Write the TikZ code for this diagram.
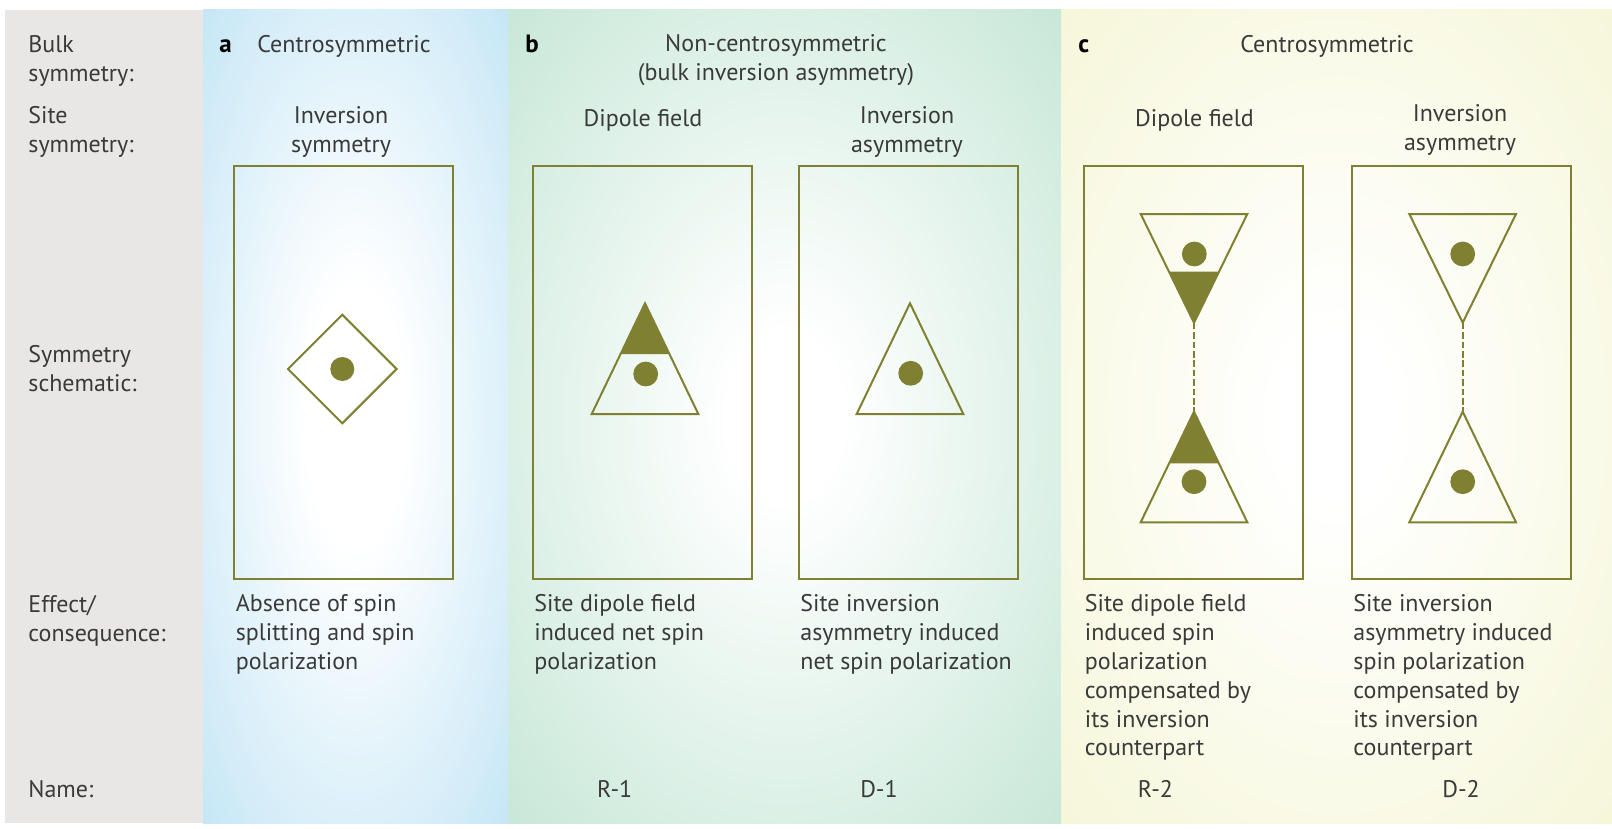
\documentclass[tikz,border=0pt]{standalone}
\usepackage{fontspec}
\setmainfont{PT Sans}
\usetikzlibrary{calc}
\definecolor{olv}{RGB}{128,128,50}
\definecolor{txt}{RGB}{58,58,58}
\definecolor{greyp}{RGB}{232,231,230}
\definecolor{bluep}{RGB}{176,221,242}
\definecolor{greenp}{RGB}{184,225,205}
\definecolor{yellp}{RGB}{243,244,206}
\pgfdeclareradialshading{shA}{\pgfpoint{0bp}{0bp}}{color(0bp)=(white); color(8bp)=(white); color(46bp)=(bluep); color(90bp)=(bluep)}
\pgfdeclareradialshading{shB}{\pgfpoint{0bp}{0bp}}{color(0bp)=(white); color(5bp)=(white); color(44bp)=(greenp); color(90bp)=(greenp)}
\pgfdeclareradialshading{shC}{\pgfpoint{0bp}{0bp}}{color(0bp)=(white); color(5bp)=(white); color(44bp)=(yellp); color(90bp)=(yellp)}
\begin{document}
\begin{tikzpicture}[x=0.5pt,y=-0.5pt,
  lbl/.style={font=\fontsize{12}{14.4}\selectfont, text=txt, inner sep=0pt, align=left, anchor=north west, execute at begin node=\strut},
  hdr/.style={font=\fontsize{12}{14.4}\selectfont, text=txt, inner sep=0pt, align=center, anchor=north, execute at begin node=\strut},
  letter/.style={font=\fontsize{12.5}{14.4}\selectfont\bfseries, text=black, inner sep=0pt, anchor=north west, execute at begin node=\strut},
  sitebox/.style={draw=olv, line width=1pt, minimum width=109.5pt, minimum height=206.7pt, inner sep=0pt},
  shp/.style={draw=olv, line width=1pt, line join=miter},
  solid part/.style={fill=olv},
  dot/.style={fill=olv},
  link/.style={draw=olv, line width=0.9pt, dash pattern=on 3.3pt off 1.4pt}
]
\useasboundingbox (0,0) rectangle (1612,829);
% panels
\fill[greyp] (5,10) rectangle (203,823);
\path[shading=shA] (203,10) rectangle (508,823);
\path[shading=shB] (508,10) rectangle (1061,823);
\path[shading=shC] (1061,10) rectangle (1612,823);

% row labels
\node[lbl] (lbulk) at (28,35.5) {Bulk\\symmetry:};
\node[lbl] (lsite) at (28,106) {Site\\symmetry:};
\node[lbl] (lsch) at (28,345) {Symmetry\\schematic:};
\node[lbl] (leff) at (28,595) {Effect/\\consequence:};
\node[lbl] (lname) at (28,777) {Name:};

% panel letters and bulk symmetry
\node[letter] (la) at (219,32) {a};
\node[letter] (lb) at (525,32) {b};
\node[letter] (lc) at (1078,32) {c};
\node[hdr] (bulkA) at (344,32) {Centrosymmetric};
\node[hdr] (bulkB) at (776,34.5) {Non-centrosymmetric\\(bulk inversion asymmetry)};
\node[hdr] (bulkC) at (1327,32) {Centrosymmetric};

% site symmetry
\node[hdr] (siteA) at (341,106.4) {Inversion\\symmetry};
\node[hdr] (siteB1) at (643,106) {Dipole field};
\node[hdr] (siteB2) at (907,106.4) {Inversion\\asymmetry};
\node[hdr] (siteC1) at (1194.5,106) {Dipole field};
\node[hdr] (siteC2) at (1460,104.5) {Inversion\\asymmetry};

% boxes
\node[sitebox] (boxA) at (343.5,372.3) {};
\node[sitebox] (boxB1) at (642.5,372.3) {};
\node[sitebox] (boxB2) at (908.5,372.3) {};
\node[sitebox] (boxC1) at (1193.5,372.3) {};
\node[sitebox] (boxC2) at (1461.5,372.3) {};

% panel a: diamond
\coordinate (dT) at (342.3,314.7);
\coordinate (dR) at (396.6,369);
\coordinate (dB) at (342.3,423.3);
\coordinate (dL) at (288,369);
\draw[shp] (dT) -- (dR) -- (dB) -- (dL) -- cycle;
\fill[dot] (342.3,369) circle[radius=6pt];

% panel b1: dipole triangle
\coordinate (b1A) at (645,303.3);
\coordinate (b1L) at (591.7,414);
\coordinate (b1R) at (698.3,414);
\fill[solid part] (b1A) -- ($(b1A)!0.458!(b1L)$) -- ($(b1A)!0.458!(b1R)$) -- cycle;
\draw[shp] (b1A) -- (b1L) -- (b1R) -- cycle;
\fill[dot] (645.7,374) circle[radius=6.2pt];

% panel b2: triangle
\coordinate (b2A) at (910,303.3);
\coordinate (b2L) at (856.7,414);
\coordinate (b2R) at (963.3,414);
\draw[shp] (b2A) -- (b2L) -- (b2R) -- cycle;
\fill[dot] (910.7,373.3) circle[radius=6.2pt];

% panel c1
\coordinate (c1tL) at (1140.7,214);
\coordinate (c1tR) at (1247.3,214);
\coordinate (c1tV) at (1194,322.7);
\coordinate (c1bA) at (1194,411.7);
\coordinate (c1bL) at (1140.7,522.3);
\coordinate (c1bR) at (1247.3,522.3);
\fill[solid part] (c1tV) -- ($(c1tV)!0.469!(c1tL)$) -- ($(c1tV)!0.469!(c1tR)$) -- cycle;
\fill[solid part] (c1bA) -- ($(c1bA)!0.467!(c1bL)$) -- ($(c1bA)!0.467!(c1bR)$) -- cycle;
\draw[shp] (c1tL) -- (c1tR) -- (c1tV) -- cycle;
\draw[shp] (c1bA) -- (c1bL) -- (c1bR) -- cycle;
\draw[link] (c1tV) -- (c1bA);
\fill[dot] (1194.3,254) circle[radius=6.2pt];
\fill[dot] (1194,481.7) circle[radius=6.2pt];

% panel c2
\coordinate (c2tL) at (1409.3,214);
\coordinate (c2tR) at (1516,214);
\coordinate (c2tV) at (1462.7,322.7);
\coordinate (c2bA) at (1462.7,411.7);
\coordinate (c2bL) at (1409.3,522.3);
\coordinate (c2bR) at (1516,522.3);
\draw[shp] (c2tL) -- (c2tR) -- (c2tV) -- cycle;
\draw[shp] (c2bA) -- (c2bL) -- (c2bR) -- cycle;
\draw[link] (c2tV) -- (c2bA);
\fill[dot] (1462.7,254) circle[radius=6.2pt];
\fill[dot] (1462.7,481.7) circle[radius=6.2pt];

% effects
\node[lbl] (effA) at (235.4,594.5) {Absence of spin\\splitting and spin\\polarization};
\node[lbl] (effB1) at (534,594.5) {Site dipole field\\induced net spin\\polarization};
\node[lbl] (effB2) at (800,594.5) {Site inversion\\asymmetry induced\\net spin polarization};
\node[lbl] (effC1) at (1084.5,594.5) {Site dipole field\\induced spin\\polarization\\compensated by\\its inversion\\counterpart};
\node[lbl] (effC2) at (1353,594.5) {Site inversion\\asymmetry induced\\spin polarization\\compensated by\\its inversion\\counterpart};

% names
\node[hdr] (nB1) at (614.7,777) {R-1};
\node[hdr] (nB2) at (879,777) {D-1};
\node[hdr] (nC1) at (1155.5,777) {R-2};
\node[hdr] (nC2) at (1461,777) {D-2};
\end{tikzpicture}
\end{document}
